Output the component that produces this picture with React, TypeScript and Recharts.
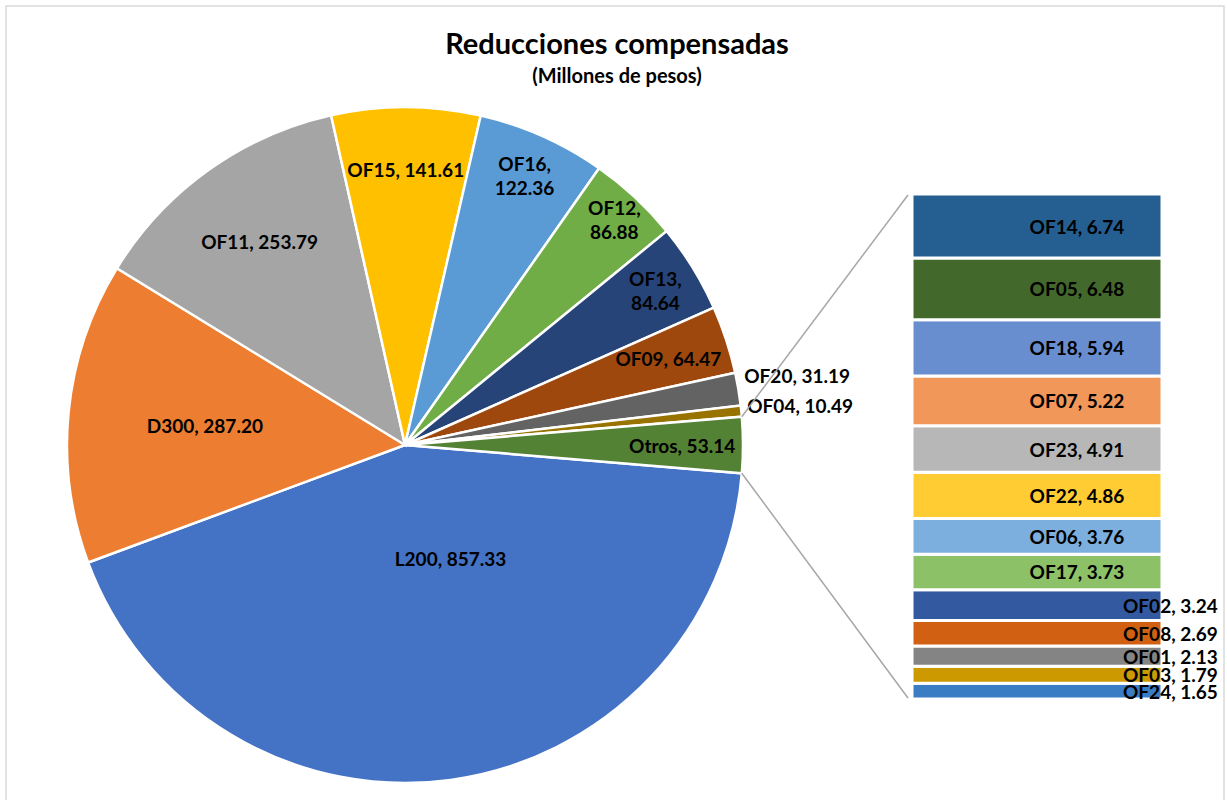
import { PieChart, Pie, Cell, BarChart, Bar, XAxis, YAxis } from "recharts";

const pieNames = ["L200", "D300", "OF11", "OF15", "OF16", "OF12", "OF13", "OF09", "OF20", "OF04", "Otros"];
const pieValues = [857.33, 287.2, 253.79, 141.61, 122.36, 86.88, 84.64, 64.47, 31.19, 10.49, 53.14];
const pieColors = ["#4472c4", "#ed7d31", "#a5a5a5", "#ffc000", "#5b9bd5", "#70ad47", "#264478", "#9e480e", "#636363", "#997300", "#548235"];

// breakdown of "Otros", top to bottom
const otrosNames = ["OF14", "OF05", "OF18", "OF07", "OF23", "OF22", "OF06", "OF17", "OF02", "OF08", "OF01", "OF03", "OF24"];
const otrosValues = [6.74, 6.48, 5.94, 5.22, 4.91, 4.86, 3.76, 3.73, 3.24, 2.69, 2.13, 1.79, 1.65];
const otrosColors = ["#255e91", "#43682b", "#698ed0", "#f1975a", "#b7b7b7", "#ffcd33", "#7cafdd", "#8cc168", "#335aa1", "#d26012", "#848484", "#cc9a00", "#3a7dc4"];

const FONT = "Lato, Calibri, 'Open Sans', sans-serif";
const RADIAN = Math.PI / 180;

const CX = 405;
const CY = 445;
const R = 338;

const BAR_LEFT = 912;
const BAR_TOP = 194;
const BAR_W = 250;
const BAR_H = 505;

// label placement tweaks (Excel "best fit")
const labelPlacement: Record<string, { r?: number; dx?: number; split?: boolean; outside?: boolean; dy?: number }> = {
  L200: { r: 0.34, dx: 30 },
  D300: { r: 0.595 },
  OF11: { r: 0.74 },
  OF15: { r: 0.815 },
  OF16: { r: 0.87, split: true },
  OF12: { r: 0.91, split: true },
  OF13: { r: 0.87, split: true },
  OF09: { r: 0.82 },
  OF20: { outside: true, dy: -14 },
  OF04: { outside: true, dy: -6 },
  Otros: { r: 0.82 },
};

const pieData = pieNames.map((name, i) => ({ name, value: pieValues[i] }));
const pieTotal = pieValues.reduce((a, b) => a + b, 0);
const otrosTotal = otrosValues.reduce((a, b) => a + b, 0);
const otrosHalf = (pieValues[pieNames.indexOf("Otros")] / pieTotal) * 180;

const barRow: Record<string, number | string> = { name: "Otros" };
otrosNames.forEach((n, i) => (barRow[n] = otrosValues[i]));
const barData = [barRow];

const labelStyle = { fontFamily: FONT, fontWeight: 700, fontSize: 19, fill: "#000" };

function renderPieLabel(props: any) {
  const { cx, cy, midAngle, outerRadius, name, value } = props;
  const p = labelPlacement[name] || { r: 0.7 };
  const cos = Math.cos(-midAngle * RADIAN);
  const sin = Math.sin(-midAngle * RADIAN);
  const txt = `${name}, ${Number(value).toFixed(2)}`;
  if (p.outside) {
    const x = cx + (outerRadius + 6) * cos;
    const y = cy + outerRadius * sin + (p.dy || 0);
    return (
      <text x={x} y={y} textAnchor="start" dominantBaseline="central" style={labelStyle}>
        {txt}
      </text>
    );
  }
  const rr = outerRadius * (p.r || 0.7);
  const x = cx + rr * cos + (p.dx || 0);
  const y = cy + rr * sin;
  if (p.split) {
    return (
      <text x={x} y={y} textAnchor="middle" style={labelStyle}>
        <tspan x={x} dy={-5}>{`${name},`}</tspan>
        <tspan x={x} dy={24}>{Number(value).toFixed(2)}</tspan>
      </text>
    );
  }
  return (
    <text x={x} y={y} textAnchor="middle" dominantBaseline="central" style={labelStyle}>
      {txt}
    </text>
  );
}

function barLabel(name: string) {
  const v = otrosValues[otrosNames.indexOf(name)];
  return (props: any) => {
    const { x, y, width, height } = props;
    const small = height < 33;
    const lx = small ? x + width - 39 : x + width * 0.66;
    return (
      <text
        x={lx}
        y={y + height / 2}
        textAnchor={small ? "start" : "middle"}
        dominantBaseline="central"
        style={labelStyle}
      >
        {`${name}, ${v.toFixed(2)}`}
      </text>
    );
  };
}

export default function App() {
  const topA = { x: CX + R * Math.cos(otrosHalf * RADIAN), y: CY - R * Math.sin(otrosHalf * RADIAN) };
  const botA = { x: CX + R * Math.cos(otrosHalf * RADIAN), y: CY + R * Math.sin(otrosHalf * RADIAN) };
  return (
    <div style={{ position: "absolute", left: 0, top: 0, width: 1227, height: 800, background: "#fff", overflow: "hidden" }}>
      <div style={{ position: "absolute", left: 0, top: 0 }}>
        <PieChart width={1227} height={800} margin={{ top: 0, right: 0, bottom: 0, left: 0 }}>
          <Pie
            data={pieData}
            dataKey="value"
            nameKey="name"
            cx={CX}
            cy={CY}
            outerRadius={R}
            startAngle={-otrosHalf}
            endAngle={-otrosHalf - 360}
            stroke="#ffffff"
            strokeWidth={2.5}
            label={renderPieLabel}
            labelLine={false}
            isAnimationActive={false}
          >
            {pieData.map((d, i) => (
              <Cell key={d.name} fill={pieColors[i]} />
            ))}
          </Pie>
        </PieChart>
      </div>
      <div style={{ position: "absolute", left: BAR_LEFT, top: BAR_TOP }}>
        <BarChart
          width={BAR_W + 80}
          height={BAR_H + 20}
          data={barData}
          margin={{ top: 0, right: 80, bottom: 20, left: 0 }}
          barCategoryGap={0}
          barGap={0}
        >
          <XAxis dataKey="name" hide />
          <YAxis hide domain={[0, otrosTotal]} />
          {[...otrosNames].reverse().map((n) => (
            <Bar
              key={n}
              dataKey={n}
              stackId="otros"
              fill={otrosColors[otrosNames.indexOf(n)]}
              stroke="#ffffff"
              strokeWidth={3}
              label={barLabel(n)}
              isAnimationActive={false}
            />
          ))}
        </BarChart>
      </div>
      <svg width={1227} height={800} style={{ position: "absolute", left: 0, top: 0, pointerEvents: "none" }}>
        <rect x={6} y={6} width={1218} height={820} fill="none" stroke="#d9d9d9" strokeWidth={1.5} />
        <text x={617} y={54} textAnchor="middle" style={{ fontFamily: FONT, fontWeight: 700, fontSize: 29, fill: "#000" }}>
          Reducciones compensadas
        </text>
        <text x={617} y={83} textAnchor="middle" style={{ fontFamily: FONT, fontWeight: 700, fontSize: 20, fill: "#000" }}>
          (Millones de pesos)
        </text>
        <line x1={topA.x} y1={topA.y} x2={BAR_LEFT - 4} y2={BAR_TOP + 1} stroke="#a6a6a6" strokeWidth={1.5} />
        <line x1={botA.x} y1={botA.y} x2={BAR_LEFT - 4} y2={BAR_TOP + BAR_H - 1} stroke="#a6a6a6" strokeWidth={1.5} />
      </svg>
    </div>
  );
}
